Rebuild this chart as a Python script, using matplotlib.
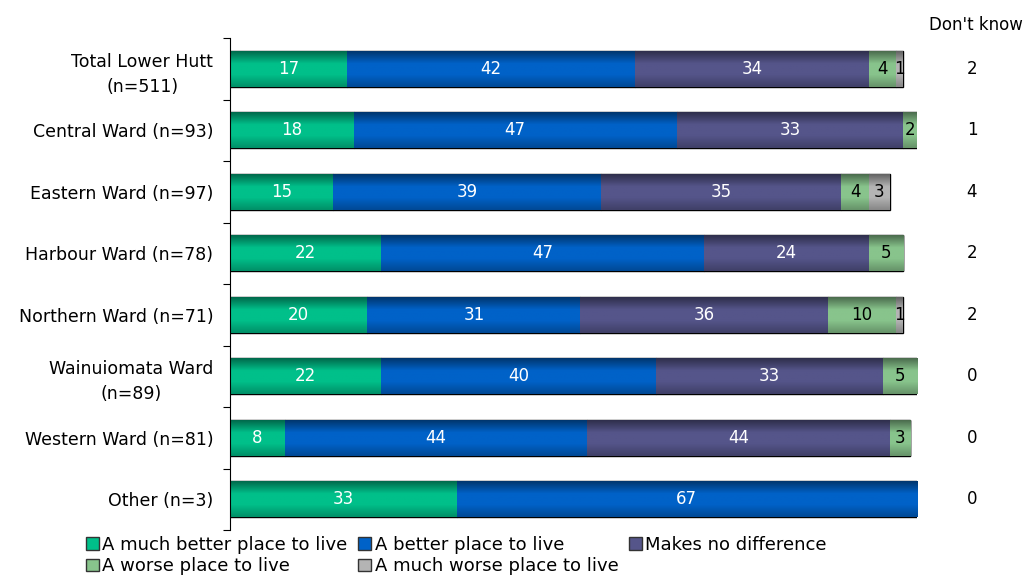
import numpy as np
import matplotlib.pyplot as plt
from matplotlib.colors import LinearSegmentedColormap, to_rgb
from matplotlib.patches import Patch

plt.rcParams['font.family'] = ['DejaVu Sans']

# Categories (top to bottom)
groups = ['Total Lower Hutt\n(n=511)', 'Central Ward (n=93)', 'Eastern Ward (n=97)',
          'Harbour Ward (n=78)', 'Northern Ward (n=71)', 'Wainuiomata Ward\n(n=89)',
          'Western Ward (n=81)', 'Other (n=3)']

much_better = [17, 18, 15, 22, 20, 22, 8, 33]
better = [42, 47, 39, 47, 31, 40, 44, 67]
no_diff = [34, 33, 35, 24, 36, 33, 44, 0]
worse = [4, 2, 4, 5, 10, 5, 3, 0]
much_worse = [1, 0, 3, 0, 1, 0, 0, 0]
dont_know = [2, 1, 4, 2, 2, 0, 0, 0]

series = [much_better, better, no_diff, worse, much_worse]
names = ['A much better place to live', 'A better place to live', 'Makes no difference',
         'A worse place to live', 'A much worse place to live']
colors = ['#00C08A', '#0062C8', '#55558A', '#88C48C', '#B4B4B4']
txt_colors = ['white', 'white', 'white', 'black', 'black']


def shade_cmap(c):
    # dark edge -> bright middle -> dark edge, like the old Excel bars
    r = np.array(to_rgb(c))
    dark = r * 0.55
    return LinearSegmentedColormap.from_list('g', [(0, dark), (0.35, r), (0.65, r), (1, r * 0.75)])


fig = plt.figure(figsize=(10.26, 5.76), dpi=100)
ax = fig.add_axes([230 / 1026, 46 / 576, 687 / 1026, 492 / 576])

y = np.arange(len(groups))
left = np.zeros(len(groups))
grad = np.linspace(0, 1, 64).reshape(-1, 1)
for vals, col, tc in zip(series, colors, txt_colors):
    vals = np.array(vals, dtype=float)
    bars = ax.barh(y, vals, left=left, height=0.58, color=col, edgecolor='black', linewidth=1, zorder=2)
    for b, v in zip(bars, vals):
        if v <= 0:
            continue
        x0, y0 = b.get_x(), b.get_y()
        im = ax.imshow(grad, cmap=shade_cmap(col), aspect='auto', zorder=2.5,
                       extent=[x0, x0 + b.get_width(), y0 + b.get_height(), y0])
        im.set_clip_path(b)
        ax.text(x0 + v / 2, b.get_y() + b.get_height() / 2, '%d' % v, color=tc,
                ha='center', va='center', fontsize=12, zorder=4)
    left += vals

for yi, d in zip(y, dont_know):
    ax.text(108, yi, '%d' % d, ha='center', va='center', fontsize=12, clip_on=False)
ax.text(115.4, -0.71, "Don't know", ha='right', va='center', fontsize=12, clip_on=False)

ax.set_xlim(0, 100)
ax.set_ylim(len(groups) - 0.5, -0.5)
ax.set_yticks(y)
ax.set_yticklabels(groups, fontsize=12.5)
for t in ax.get_yticklabels():
    t.set_multialignment('center')
    t.set_linespacing(1.5)
ax.set_yticks(np.arange(len(groups) + 1) - 0.5, minor=True)
ax.tick_params(axis='y', which='major', length=0, pad=12)
ax.tick_params(axis='y', which='minor', length=5, direction='out', width=0.8)
ax.set_xticks([])
for s in ['top', 'right', 'bottom']:
    ax.spines[s].set_visible(False)
ax.spines['left'].set_linewidth(0.8)

handles = [Patch(facecolor=c, edgecolor='#333333', label=n) for c, n in zip(colors, names)]
order = [0, 3, 1, 4, 2]
fig.legend([handles[i] for i in order], [names[i] for i in order], ncol=3,
           loc='upper left', bbox_to_anchor=(86 / 1026, 1 - 536 / 576), frameon=False, fontsize=13,
           handlelength=0.7, handleheight=0.7, handletextpad=0.2, columnspacing=0.6,
           labelspacing=0.18, borderpad=0, borderaxespad=0)

fig.savefig('out.png', dpi=100)
